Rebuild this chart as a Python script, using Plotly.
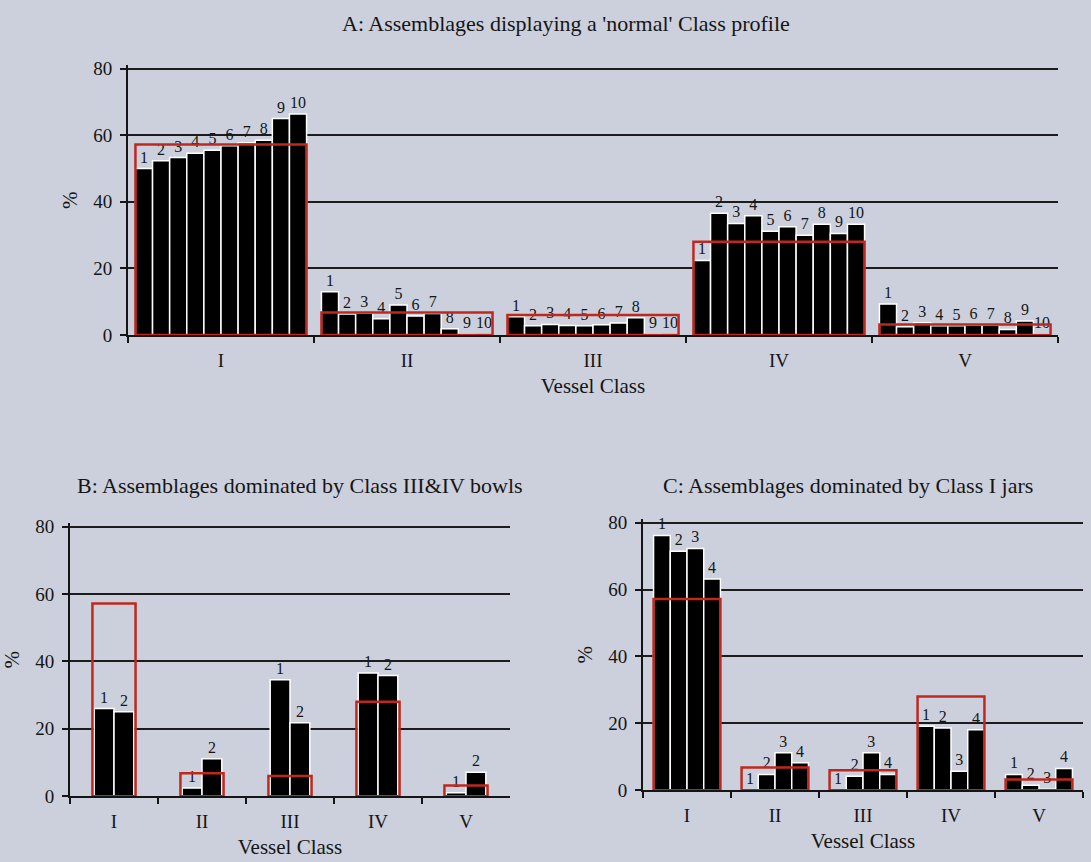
import plotly.graph_objects as go

classes = ["I", "II", "III", "IV", "V"]

# Reference ("normal") class profile, drawn as red outlines
normal_profile = [57.2, 6.8, 6.0, 28.0, 3.2]

# Panel A: assemblages 1-10, percentages per class
a_values = {
    1: [50.0, 13.0, 5.5, 22.4, 9.3],
    2: [52.3, 6.3, 2.8, 36.6, 2.5],
    3: [53.3, 6.6, 3.2, 33.5, 3.7],
    4: [54.6, 4.9, 2.9, 35.8, 2.8],
    5: [55.5, 9.0, 2.8, 31.2, 2.8],
    6: [56.8, 5.7, 3.1, 32.5, 3.0],
    7: [57.7, 6.5, 3.6, 30.0, 3.0],
    8: [58.5, 1.9, 5.2, 33.3, 1.7],
    9: [65.0, 0.3, 0.3, 30.5, 4.2],
    10: [66.4, 0.2, 0.2, 33.3, 0.3],
}

# Panel B: assemblages dominated by Class III & IV bowls
b_values = {
    1: [26.0, 2.4, 34.6, 36.6, 1.0],
    2: [25.1, 11.1, 21.8, 35.8, 7.1],
}

# Panel C: assemblages dominated by Class I jars
c_values = {
    1: [76.2, 0.0, 0.0, 19.1, 4.7],
    2: [71.5, 4.7, 4.2, 18.6, 1.5],
    3: [72.3, 11.2, 11.2, 5.7, 0.3],
    4: [63.2, 8.2, 4.7, 18.1, 6.5],
}

titles = {
    "A": "A: Assemblages displaying a 'normal' Class profile",
    "B": "B: Assemblages dominated by Class III&IV bowls",
    "C": "C: Assemblages dominated by Class I jars",
}

W, H = 1091, 862
FONT = "Liberation Serif, Times New Roman, serif"
BG = "#ccd0dc"
RED = "#c0281e"
INK = "#151515"
YMAX = 81  # a little headroom so the 80 gridline is drawn


def py(y):
    # vertical placement correction (measured on the rendered page)
    return (y - 6.3) / 0.981


# panel layout in pixels: (x_left, x_right, y of 80, y of 0), box fraction, slot fraction
panels = [
    ("A", a_values, (128, 1058, 68, 335), 0.92, 0.092, "x", "y"),
    ("B", b_values, (70, 510, 527, 797), 0.49, 0.225, "x2", "y2"),
    ("C", c_values, (643, 1083, 523, 791), 0.76, 0.19, "x3", "y3"),
]

fig = go.Figure()
layout = {}

for key, vals, (xl, xr, y80, y0), boxw, slot, xa, ya in panels:
    y80, y0 = py(y80), py(y0)
    n = len(vals)
    start = -slot * n / 2
    for j, (num, series) in enumerate(vals.items()):
        fig.add_trace(go.Bar(
            x=classes, y=series, xaxis=xa, yaxis=ya,
            offset=start + j * slot, width=slot,
            marker=dict(color="black", line=dict(color="white", width=1.5)),
            text=[str(num)] * len(classes), textposition="outside",
            textfont=dict(family=FONT, size=16, color=INK),
            cliponaxis=False, showlegend=False, hoverinfo="skip",
        ))
    fig.add_trace(go.Bar(
        x=classes, y=normal_profile, xaxis=xa, yaxis=ya,
        width=boxw,
        marker=dict(color="rgba(0,0,0,0)", line=dict(color=RED, width=2.5)),
        showlegend=False, hoverinfo="skip",
    ))
    suffix = "" if xa == "x" else xa[1:]
    ax_common = dict(
        showline=True, linecolor=INK, linewidth=2,
        tickfont=dict(family=FONT, size=19, color=INK),
        ticks="outside", tickcolor=INK, ticklen=6, tickwidth=2,
    )
    ytop = y80 - (y0 - y80) * (YMAX - 80) / 80
    layout["xaxis" + suffix] = dict(
        ax_common,
        domain=[xl / W, xr / W], anchor=ya,
        type="category", range=[-0.5, 4.5], tickson="boundaries",
        showgrid=False, ticklabelstandoff=7,
        title=dict(text="Vessel Class", font=dict(family=FONT, size=21, color=INK), standoff=8),
    )
    layout["yaxis" + suffix] = dict(
        ax_common,
        domain=[(H - y0) / H, (H - ytop) / H], anchor=xa,
        range=[0, YMAX], tickvals=[0, 20, 40, 60, 80],
        showgrid=True, gridcolor="#1c1c1c", gridwidth=1.8,
        zeroline=False, ticklabelstandoff=4,
        title=dict(text="%", font=dict(family=FONT, size=21, color=INK), standoff=10),
    )

annotations = [
    dict(text=titles["A"], x=566 / W, y=1 - py(23) / H),
    dict(text=titles["B"], x=300 / W, y=1 - py(486) / H),
    dict(text=titles["C"], x=848 / W, y=1 - py(486) / H),
]
for a in annotations:
    a.update(xref="paper", yref="paper", showarrow=False, xanchor="center", yanchor="middle",
             font=dict(family=FONT, size=22, color=INK))

fig.update_layout(
    width=W, height=H, autosize=False,
    margin=dict(l=0, r=0, t=0, b=0),
    paper_bgcolor=BG, plot_bgcolor=BG,
    barmode="overlay",
    annotations=annotations,
    **layout,
)

css_js = (
    "var s=document.createElement('style');"
    "s.textContent='html,body{margin:0;padding:0;overflow:hidden;height:%dpx;background:%s;}"
    "body>div{margin:0;padding:0;line-height:0;}';"
    "document.head.appendChild(s);" % (H, BG)
)

fig.write_html(
    "out.html",
    config={"displayModeBar": False, "responsive": False},
    post_script=css_js,
)
